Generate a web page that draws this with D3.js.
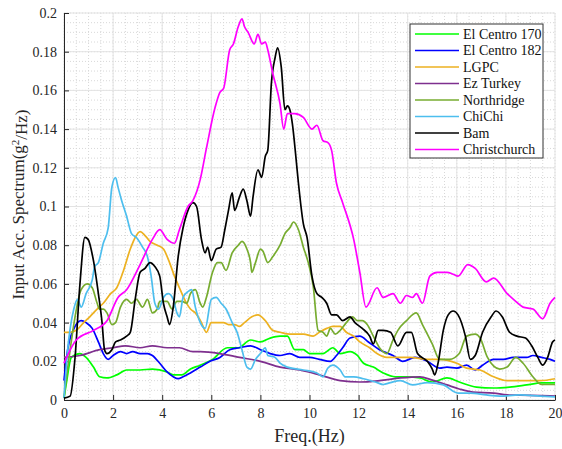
<!DOCTYPE html>
<html>
<head>
<meta charset="utf-8">
<script src="https://cdn.jsdelivr.net/npm/d3@7"></script>
<style>
  body { margin: 0; background: #fff; }
  text { font-family: "Liberation Serif", "Times New Roman", serif; }
</style>
</head>
<body>
<div id="chart"></div>
<script>
// series names, in legend order
var names = ["El Centro 170", "El Centro 182", "LGPC", "Ez Turkey", "Northridge", "ChiChi", "Bam", "Christchurch"]
var colors = ["#00ff00", "#0000ff", "#edb120", "#7e2f8e", "#77ac30", "#4dbeee", "#000000", "#ff00ff"]

var xTicks = [0, 2, 4, 6, 8, 10, 12, 14, 16, 18, 20]
var yTicks = [0, 0.02, 0.04, 0.06, 0.08, 0.1, 0.12, 0.14, 0.16, 0.18, 0.2]

// [freq (Hz), spectrum (g^2/Hz)]
var elCentro170 = [[0,0.001],[0.1,0.009],[0.3,0.022],[0.65,0.024],[0.9,0.022],[1.2,0.017],[1.45,0.012],[1.75,0.0114],[2.15,0.013],[2.55,0.0155],[3.1,0.0155],[3.6,0.016],[4.2,0.0145],[4.45,0.013],[4.8,0.013],[5.15,0.016],[5.55,0.018],[6.05,0.021],[6.65,0.027],[7.1,0.027],[7.6,0.031],[8.0,0.030],[8.4,0.032],[8.8,0.033],[9.1,0.033],[9.4,0.026],[9.75,0.026],[10.0,0.024],[10.55,0.024],[10.95,0.027],[11.25,0.024],[11.65,0.025],[11.95,0.023],[12.2,0.019],[12.6,0.017],[13.0,0.014],[13.5,0.012],[13.95,0.012],[14.5,0.0114],[15.0,0.0093],[15.6,0.0114],[16.1,0.0093],[16.8,0.0067],[17.5,0.0062],[18.15,0.0067],[18.85,0.0078],[19.45,0.0088],[20,0.0088]]
var elCentro182 = [[0,0.010],[0.15,0.026],[0.45,0.038],[0.7,0.041],[0.9,0.040],[1.15,0.037],[1.4,0.030],[1.6,0.024],[1.8,0.021],[2.0,0.023],[2.3,0.025],[2.55,0.024],[2.8,0.025],[3.1,0.024],[3.4,0.024],[3.6,0.023],[3.9,0.019],[4.2,0.0145],[4.45,0.012],[4.65,0.011],[4.85,0.012],[5.15,0.014],[5.55,0.017],[5.95,0.020],[6.35,0.022],[6.75,0.026],[7.15,0.027],[7.6,0.028],[8.0,0.026],[8.4,0.024],[8.8,0.023],[9.2,0.024],[9.6,0.022],[10.0,0.022],[10.4,0.021],[10.85,0.020],[11.1,0.023],[11.35,0.027],[11.65,0.032],[12.05,0.033],[12.4,0.030],[12.85,0.026],[13.4,0.023],[13.8,0.020],[14.3,0.022],[14.8,0.020],[15.3,0.0165],[15.6,0.017],[16.0,0.0165],[16.4,0.018],[16.75,0.0155],[17.05,0.018],[17.5,0.021],[17.9,0.021],[18.3,0.022],[18.85,0.022],[19.1,0.023],[19.45,0.022],[19.8,0.021],[20,0.020]]
var lgpc = [[0,0.035],[0.25,0.035],[0.5,0.036],[0.8,0.040],[1.05,0.043],[1.35,0.047],[1.6,0.050],[1.9,0.055],[2.15,0.058],[2.4,0.066],[2.7,0.078],[2.9,0.084],[3.1,0.087],[3.3,0.085],[3.5,0.082],[3.8,0.080],[4.05,0.078],[4.3,0.071],[4.5,0.064],[4.7,0.058],[4.95,0.051],[5.15,0.047],[5.35,0.045],[5.6,0.040],[5.8,0.035],[6.0,0.040],[6.3,0.040],[6.5,0.040],[6.7,0.039],[6.95,0.039],[7.15,0.038],[7.35,0.040],[7.65,0.043],[7.9,0.044],[8.2,0.041],[8.5,0.036],[8.8,0.035],[9.2,0.034],[9.75,0.034],[10.15,0.033],[10.4,0.035],[10.7,0.037],[10.95,0.038],[11.25,0.038],[11.5,0.035],[11.8,0.033],[12.05,0.030],[12.45,0.027],[12.75,0.024],[13.15,0.022],[13.55,0.022],[14.1,0.022],[14.8,0.021],[15.3,0.021],[16.0,0.019],[16.4,0.0165],[16.95,0.0155],[17.5,0.012],[18.05,0.010],[18.7,0.010],[19.4,0.010],[20,0.011]]
var ezTurkey = [[0,0.022],[0.65,0.023],[1.45,0.026],[2.0,0.027],[2.5,0.028],[3.1,0.027],[3.6,0.028],[4.2,0.027],[4.7,0.027],[5.25,0.025],[5.55,0.025],[6.35,0.024],[7.15,0.022],[8.0,0.020],[8.8,0.017],[9.6,0.0155],[10.4,0.013],[11.25,0.010],[12.05,0.0093],[12.85,0.010],[13.7,0.0114],[14.5,0.012],[15.0,0.0103],[15.6,0.0078],[16.1,0.0057],[16.65,0.0041],[17.5,0.0036],[18.05,0.0026],[19,0.0024],[20,0.002]]
var northridge = [[0,0.001],[0.25,0.026],[0.45,0.043],[0.7,0.057],[0.95,0.060],[1.15,0.058],[1.35,0.050],[1.45,0.047],[1.6,0.047],[1.75,0.045],[1.95,0.039],[2.1,0.040],[2.3,0.048],[2.55,0.052],[2.75,0.050],[2.95,0.052],[3.2,0.048],[3.4,0.052],[3.6,0.045],[3.8,0.047],[3.9,0.051],[4.2,0.051],[4.4,0.047],[4.6,0.051],[4.8,0.051],[5.0,0.050],[5.15,0.055],[5.35,0.057],[5.55,0.050],[5.65,0.048],[5.8,0.053],[6.05,0.066],[6.25,0.071],[6.4,0.071],[6.6,0.067],[6.85,0.076],[7.1,0.080],[7.25,0.082],[7.45,0.078],[7.6,0.071],[7.65,0.066],[7.8,0.071],[8.0,0.078],[8.1,0.077],[8.3,0.071],[8.5,0.074],[8.8,0.080],[9.0,0.086],[9.2,0.089],[9.35,0.092],[9.55,0.088],[9.75,0.079],[9.95,0.071],[10.15,0.059],[10.35,0.036],[10.55,0.035],[10.7,0.033],[10.85,0.037],[11.05,0.034],[11.25,0.036],[11.5,0.040],[11.75,0.043],[11.95,0.041],[12.15,0.041],[12.35,0.039],[12.6,0.033],[12.85,0.027],[13.15,0.024],[13.4,0.031],[13.6,0.036],[13.95,0.041],[14.35,0.045],[14.6,0.039],[15.0,0.029],[15.3,0.021],[15.7,0.021],[16.1,0.024],[16.4,0.033],[16.75,0.034],[16.95,0.032],[17.25,0.022],[17.75,0.016],[18.05,0.017],[18.4,0.022],[18.7,0.019],[19.1,0.012],[19.45,0.008],[20,0.008]]
var chiChi = [[0,0.001],[0.15,0.026],[0.4,0.047],[0.55,0.052],[0.7,0.048],[0.9,0.055],[1.15,0.062],[1.25,0.069],[1.4,0.071],[1.6,0.081],[1.8,0.089],[1.95,0.110],[2.1,0.115],[2.2,0.110],[2.35,0.103],[2.55,0.095],[2.75,0.086],[2.95,0.084],[3.2,0.079],[3.4,0.074],[3.55,0.064],[3.7,0.050],[3.85,0.047],[4.05,0.053],[4.25,0.055],[4.45,0.052],[4.6,0.045],[4.7,0.043],[4.85,0.053],[5.05,0.056],[5.2,0.057],[5.35,0.048],[5.55,0.040],[5.75,0.037],[6.0,0.052],[6.2,0.053],[6.4,0.050],[6.6,0.047],[6.85,0.040],[7.05,0.035],[7.25,0.026],[7.45,0.017],[7.6,0.016],[7.8,0.021],[8.0,0.024],[8.2,0.027],[8.3,0.023],[8.6,0.022],[8.8,0.019],[9.1,0.017],[9.75,0.0155],[10.3,0.014],[10.55,0.012],[10.75,0.0165],[10.95,0.018],[11.25,0.0155],[11.45,0.012],[11.8,0.012],[12.2,0.011],[12.75,0.009],[13.0,0.008],[13.3,0.009],[13.7,0.010],[14.2,0.0078],[14.8,0.009],[15.45,0.0078],[16.05,0.0036],[16.55,0.0036],[17.2,0.0026],[17.75,0.002],[18.55,0.0026],[19.4,0.002],[20,0.0016]]
var bam = [[0,0.001],[0.25,0.002],[0.45,0.022],[0.65,0.060],[0.85,0.084],[0.98,0.083],[1.2,0.072],[1.4,0.055],[1.55,0.040],[1.65,0.026],[1.75,0.024],[1.95,0.026],[2.1,0.030],[2.3,0.031],[2.55,0.033],[2.7,0.035],[2.9,0.052],[3.1,0.066],[3.3,0.068],[3.5,0.071],[3.7,0.069],[3.9,0.064],[4.05,0.050],[4.2,0.043],[4.3,0.039],[4.45,0.048],[4.65,0.074],[4.85,0.089],[5.05,0.098],[5.25,0.102],[5.4,0.100],[5.6,0.083],[5.75,0.076],[5.85,0.079],[6.0,0.072],[6.2,0.078],[6.4,0.079],[6.55,0.088],[6.7,0.098],[6.85,0.107],[6.95,0.098],[7.15,0.105],[7.3,0.109],[7.45,0.103],[7.6,0.095],[7.7,0.105],[7.9,0.119],[8.05,0.115],[8.2,0.126],[8.3,0.129],[8.45,0.164],[8.6,0.177],[8.7,0.182],[8.85,0.172],[9.0,0.150],[9.1,0.152],[9.2,0.150],[9.3,0.143],[9.45,0.125],[9.55,0.112],[9.75,0.091],[9.9,0.084],[10.1,0.064],[10.3,0.055],[10.5,0.053],[10.7,0.050],[10.9,0.044],[11.1,0.044],[11.35,0.041],[11.65,0.043],[11.85,0.040],[12.15,0.037],[12.45,0.033],[12.6,0.029],[12.8,0.036],[13.0,0.036],[13.3,0.035],[13.6,0.028],[13.95,0.035],[14.15,0.035],[14.4,0.024],[14.8,0.020],[15.0,0.016],[15.1,0.013],[15.25,0.020],[15.45,0.036],[15.65,0.044],[15.85,0.046],[16.05,0.044],[16.35,0.033],[16.55,0.021],[16.75,0.023],[17.05,0.035],[17.4,0.043],[17.6,0.046],[17.85,0.043],[18.15,0.035],[18.45,0.033],[18.8,0.032],[19.05,0.028],[19.3,0.022],[19.5,0.018],[19.7,0.022],[19.9,0.030],[20,0.031]]
var christchurch = [[0,0.019],[0.5,0.031],[1.2,0.036],[1.75,0.041],[2.2,0.053],[2.55,0.057],[3.1,0.070],[3.6,0.083],[3.9,0.088],[4.2,0.083],[4.5,0.081],[4.7,0.088],[5.05,0.100],[5.25,0.103],[5.55,0.114],[5.8,0.130],[6.15,0.151],[6.35,0.159],[6.5,0.161],[6.75,0.181],[6.9,0.184],[7.1,0.193],[7.25,0.197],[7.35,0.193],[7.5,0.190],[7.75,0.184],[7.9,0.189],[8.05,0.184],[8.2,0.185],[8.3,0.181],[8.5,0.169],[8.8,0.153],[8.95,0.140],[9.1,0.148],[9.4,0.148],[9.75,0.146],[10.1,0.140],[10.3,0.142],[10.55,0.134],[10.75,0.133],[10.9,0.129],[11.1,0.112],[11.35,0.102],[11.8,0.083],[12.05,0.066],[12.3,0.048],[12.75,0.058],[13.0,0.053],[13.4,0.055],[13.7,0.050],[13.95,0.054],[14.2,0.053],[14.35,0.055],[14.6,0.050],[14.9,0.064],[15.2,0.066],[15.6,0.066],[15.85,0.065],[16.05,0.064],[16.45,0.070],[16.75,0.068],[17.2,0.061],[17.5,0.063],[18.05,0.055],[18.4,0.051],[18.7,0.048],[19.1,0.047],[19.5,0.042],[19.8,0.050],[20,0.053]]

var seriesData = [elCentro170, elCentro182, lgpc, ezTurkey, northridge, chiChi, bam, christchurch]

var width = 562,
  height = 449
var margin = {top: 13, right: 7, bottom: 49, left: 64}
var w = width - margin.left - margin.right,
  h = height - margin.top - margin.bottom

var svg = d3.select("#chart")
  .append("svg")
  .attr("width", width)
  .attr("height", height)

var g = svg.append("g")
  .attr("transform", "translate(" + margin.left + "," + margin.top + ")")

var x = d3.scaleLinear().domain([0, 20]).range([0, w])
var y = d3.scaleLinear().domain([0, 0.2]).range([h, 0])

// minor grid (dotted)
var xMinor = d3.range(0, 20.01, 0.5)
var yMinor = d3.range(0, 0.2001, 0.005)
g.append("g")
  .selectAll("line")
  .data(xMinor)
  .enter()
  .append("line")
  .attr("x1", function(d) { return x(d) })
  .attr("x2", function(d) { return x(d) })
  .attr("y1", 0)
  .attr("y2", h)
  .attr("stroke", "#d8d8d8")
  .attr("stroke-dasharray", "1,2")
g.append("g")
  .selectAll("line")
  .data(yMinor)
  .enter()
  .append("line")
  .attr("x1", 0)
  .attr("x2", w)
  .attr("y1", function(d) { return y(d) })
  .attr("y2", function(d) { return y(d) })
  .attr("stroke", "#d8d8d8")
  .attr("stroke-dasharray", "1,2")

// major grid
g.append("g")
  .selectAll("line")
  .data(xTicks)
  .enter()
  .append("line")
  .attr("x1", function(d) { return x(d) })
  .attr("x2", function(d) { return x(d) })
  .attr("y1", 0)
  .attr("y2", h)
  .attr("stroke", "#e3e3e3")
g.append("g")
  .selectAll("line")
  .data(yTicks)
  .enter()
  .append("line")
  .attr("x1", 0)
  .attr("x2", w)
  .attr("y1", function(d) { return y(d) })
  .attr("y2", function(d) { return y(d) })
  .attr("stroke", "#e3e3e3")

// axes
var xAxis = g.append("g")
  .attr("transform", "translate(0," + h + ")")
  .call(d3.axisBottom(x).tickValues(xTicks).tickFormat(d3.format("d")).tickSizeInner(-5).tickSizeOuter(0).tickPadding(8))
var yAxis = g.append("g")
  .call(d3.axisLeft(y).tickValues(yTicks).tickFormat(function(d) { return d === 0 ? "0" : String(+d.toFixed(2)) }).tickSizeInner(-5).tickSizeOuter(0).tickPadding(7))

;[xAxis, yAxis].forEach(function(a) {
  a.attr("font-family", null)
  a.selectAll("text")
    .style("font-family", "'Liberation Serif', serif")
    .style("font-size", "14px")
    .attr("fill", "#262626")
  a.selectAll("line").attr("stroke", "#262626")
  a.select(".domain").attr("stroke", "#262626")
})

// lines
var line = d3.line()
  .x(function(d) { return x(d[0]) })
  .y(function(d) { return y(d[1]) })
  .curve(d3.curveMonotoneX)

g.append("g")
  .selectAll("path")
  .data(seriesData)
  .enter()
  .append("path")
  .attr("d", line)
  .attr("fill", "none")
  .attr("stroke", function(d, i) { return colors[i] })
  .attr("stroke-width", 1.7)
  .attr("stroke-linejoin", "round")

// legend
var legend = svg.append("g")
  .attr("transform", "translate(410,24)")
legend.append("rect")
  .attr("width", 133)
  .attr("height", 134)
  .attr("fill", "#fff")
  .attr("stroke", "#333")
  .attr("stroke-width", 1)
var items = legend.selectAll(".item")
  .data(names)
  .enter()
  .append("g")
  .attr("transform", function(d, i) { return "translate(0," + (10 + i * 16.5) + ")" })
items.append("line")
  .attr("x1", 5)
  .attr("x2", 49)
  .attr("stroke", function(d, i) { return colors[i] })
  .attr("stroke-width", 1.7)
items.append("text")
  .attr("x", 53)
  .attr("dy", "0.33em")
  .style("font-size", "14px")
  .attr("fill", "#111")
  .text(function(d) { return d })

// axis labels
svg.append("text")
  .attr("x", margin.left + w / 2)
  .attr("y", 442)
  .attr("text-anchor", "middle")
  .style("font-size", "18px")
  .attr("fill", "#262626")
  .text("Freq.(Hz)")

var yl = svg.append("text")
  .attr("transform", "translate(24," + (margin.top + h / 2 - 2) + ") rotate(-90)")
  .attr("text-anchor", "middle")
  .style("font-size", "17px")
  .attr("fill", "#262626")
yl.append("tspan").text("Input Acc. Spectrum(g")
yl.append("tspan").attr("dy", "-0.45em").style("font-size", "11px").text("2")
yl.append("tspan").attr("dy", "0.45em").text("/Hz)")
</script>
</body>
</html>
